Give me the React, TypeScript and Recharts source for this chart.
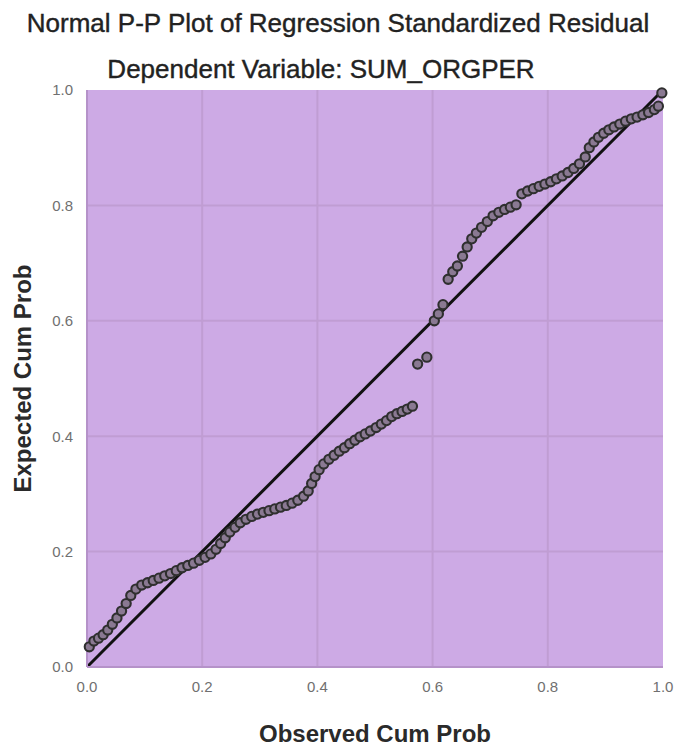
import React from "react";
import {
  ScatterChart,
  Scatter,
  XAxis,
  YAxis,
  CartesianGrid,
  ReferenceLine,
} from "recharts";

// Observed cumulative probability (x) and expected cumulative probability (y)
const observedCumProb = [
  0.004, 0.012, 0.02, 0.028, 0.036, 0.044, 0.052, 0.06, 0.068, 0.076,
  0.085, 0.095, 0.105, 0.115, 0.125, 0.135, 0.145, 0.155, 0.165, 0.175,
  0.185, 0.195, 0.205, 0.215, 0.224, 0.232, 0.24, 0.248, 0.257, 0.266,
  0.276, 0.286, 0.296, 0.306, 0.316, 0.326, 0.336, 0.346, 0.356, 0.366,
  0.376, 0.384, 0.39, 0.396, 0.403, 0.411, 0.42, 0.429, 0.438, 0.447,
  0.456, 0.465, 0.474, 0.483, 0.492, 0.502, 0.511, 0.52, 0.529, 0.538,
  0.547, 0.556, 0.565, 0.574, 0.59, 0.603, 0.61, 0.618, 0.627, 0.635,
  0.643, 0.652, 0.66, 0.668, 0.676, 0.685, 0.695, 0.705, 0.715, 0.725,
  0.735, 0.745, 0.755, 0.765, 0.775, 0.785, 0.795, 0.805, 0.815, 0.825,
  0.835, 0.845, 0.855, 0.865, 0.872, 0.88, 0.888, 0.897, 0.906, 0.915,
  0.925, 0.935, 0.945, 0.955, 0.965, 0.975, 0.985, 0.992, 0.998,
];

const expectedCumProb = [
  0.035, 0.045, 0.05, 0.056, 0.064, 0.074, 0.085, 0.097, 0.11, 0.124,
  0.135, 0.142, 0.146, 0.15, 0.154, 0.158, 0.162, 0.167, 0.172, 0.176,
  0.18, 0.185, 0.19, 0.196, 0.204, 0.214, 0.224, 0.234, 0.242, 0.25,
  0.256, 0.261, 0.265, 0.268, 0.271, 0.274, 0.277, 0.28, 0.284, 0.289,
  0.296, 0.305, 0.318, 0.33, 0.342, 0.352, 0.36, 0.367, 0.374, 0.38,
  0.387, 0.393, 0.399, 0.404, 0.409, 0.415, 0.421, 0.427, 0.434, 0.439,
  0.443, 0.447, 0.452, 0.525, 0.537, 0.6, 0.612, 0.628, 0.672, 0.685,
  0.695, 0.712, 0.728, 0.742, 0.752, 0.762, 0.772, 0.782, 0.788, 0.793,
  0.797, 0.801, 0.82, 0.825, 0.829, 0.833, 0.837, 0.841, 0.846, 0.851,
  0.857, 0.864, 0.872, 0.884, 0.9, 0.91, 0.918, 0.925, 0.931, 0.936,
  0.941, 0.946, 0.95, 0.953, 0.957, 0.961, 0.966, 0.972, 0.995,
];

const axisTicks = [0, 0.2, 0.4, 0.6, 0.8, 1.0];

const points = observedCumProb.map((x, i) => ({ x, y: expectedCumProb[i] }));

const FONT = '"Liberation Sans", Arial, sans-serif';

function Ring(props: any) {
  const { cx, cy } = props;
  if (cx == null || cy == null) return null;
  return (
    <circle
      cx={cx}
      cy={cy}
      r={4.6}
      fill="#8a7992"
      stroke="#2f2f2f"
      strokeWidth={2.1}
    />
  );
}

export default function App() {
  return (
    <div
      style={{
        position: "absolute",
        left: 0,
        top: 0,
        width: 680,
        height: 747,
        background: "#fff",
        fontFamily: FONT,
      }}
    >
      <div
        style={{
          position: "absolute",
          top: 8,
          left: 0,
          width: 676,
          textAlign: "center",
          fontSize: 26,
          color: "#222",
          whiteSpace: "nowrap",
          WebkitTextStroke: "0.4px #222",
        }}
      >
        Normal P-P Plot of Regression Standardized Residual
      </div>
      <div
        style={{
          position: "absolute",
          top: 54,
          left: 0,
          width: 642,
          textAlign: "center",
          fontSize: 26,
          color: "#222",
          whiteSpace: "nowrap",
          WebkitTextStroke: "0.4px #222",
        }}
      >
        Dependent Variable: SUM_ORGPER
      </div>

      <ScatterChart
        width={680}
        height={747}
        margin={{ top: 90, right: 17, bottom: 0, left: 0 }}
      >
        <CartesianGrid
          fill="#cdaae5"
          stroke="#c09dd3"
          strokeWidth={2}
          horizontalValues={[0.2, 0.4, 0.6, 0.8]}
          verticalValues={[0.2, 0.4, 0.6, 0.8]}
        />
        <XAxis
          type="number"
          dataKey="x"
          domain={[0, 1]}
          ticks={axisTicks}
          tickFormatter={(v: number) => v.toFixed(1)}
          height={80}
          axisLine={{ stroke: "#b592c9", strokeWidth: 2 }}
          tickLine={false}
          tickMargin={8}
          tick={{ fill: "#707070", fontSize: 15, fontFamily: FONT }}
          label={{
            value: "Observed Cum Prob",
            position: "insideBottom",
            offset: 5,
            fill: "#2a2a2a",
            fontSize: 24,
            fontWeight: "bold",
            fontFamily: FONT,
          }}
        />
        <YAxis
          type="number"
          dataKey="y"
          domain={[0, 1]}
          ticks={axisTicks}
          tickFormatter={(v: number) => v.toFixed(1)}
          width={87}
          axisLine={{ stroke: "#b592c9", strokeWidth: 2 }}
          tickLine={false}
          tickMargin={8}
          tick={{ fill: "#707070", fontSize: 15, fontFamily: FONT }}
          label={{
            value: "Expected Cum Prob",
            angle: -90,
            position: "insideLeft",
            offset: 22,
            style: { textAnchor: "middle" },
            fill: "#2a2a2a",
            fontSize: 24,
            fontWeight: "bold",
            fontFamily: FONT,
          }}
        />
        <Scatter
          data={points}
          shape={<Ring />}
          isAnimationActive={false}
        />
        <ReferenceLine
          segment={[
            { x: 0, y: 0 },
            { x: 1, y: 1 },
          ]}
          stroke="#111"
          strokeWidth={3}
        />
      </ScatterChart>
    </div>
  );
}
